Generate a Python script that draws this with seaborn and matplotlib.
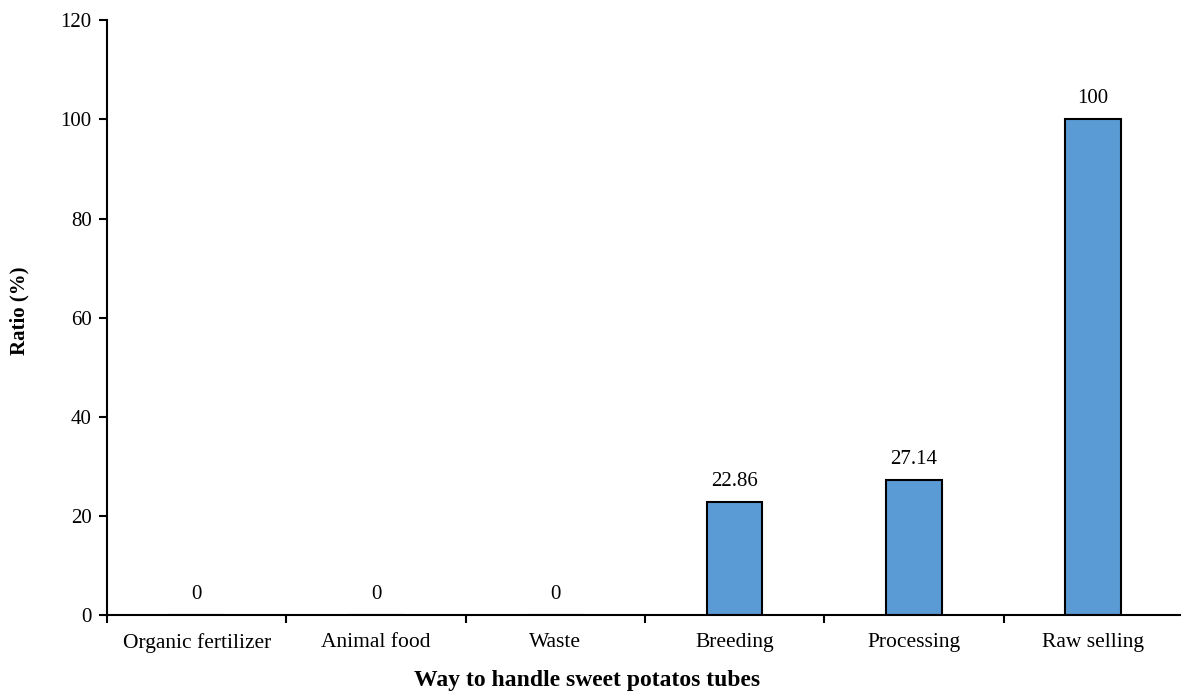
import pandas as pd
import numpy as np
import matplotlib
matplotlib.use("Agg")
import matplotlib.pyplot as plt
import seaborn as sns

# data
categories = ["Organic fertilizer", "Animal food", "Waste", "Breeding", "Processing", "Raw selling"]
ratios = [0, 0, 0, 22.86, 27.14, 100]
value_labels = ["0", "0", "0", "22.86", "27.14", "100"]

df = pd.DataFrame({"Way": categories, "Ratio": ratios})

sns.set_style("white")
plt.rcParams['font.family'] = ['Liberation Serif', 'DejaVu Serif']
plt.rcParams['text.color'] = 'black'
plt.rcParams['axes.labelcolor'] = 'black'
plt.rcParams['xtick.color'] = 'black'
plt.rcParams['ytick.color'] = 'black'

fig = plt.figure(figsize=(11.81, 6.93), dpi=100)
ax = fig.add_axes([0.0906, 0.1126, 0.911, 0.858])

sns.barplot(x="Way", y="Ratio", data=df, color="#5B9BD5", edgecolor="black",
            linewidth=1.5, width=0.31, saturation=1, ax=ax)

# value labels on top of bars
for i, (v, lab) in enumerate(zip(ratios, value_labels)):
    ax.annotate(lab, (i, v), xytext=(0, 8), textcoords="offset points",
                ha="center", va="bottom", fontsize=15, color="black")

ax.set_ylim(0, 120)
ax.set_xlim(-0.5, len(categories) - 0.5)
ax.set_yticks(np.arange(0, 121, 20))

# category boundaries as tick marks (none at the right end), names as minor labels
ax.set_xticks(np.arange(-0.5, len(categories) - 1, 1.0))
ax.set_xticklabels([])
ax.set_xticks(np.arange(len(categories)), minor=True)
ax.set_xticklabels(categories, minor=True, fontsize=15.5)
ax.tick_params(axis="x", which="major", direction="out", length=6, width=1.5, bottom=True)
ax.tick_params(axis="x", which="minor", length=0, pad=13)
ax.tick_params(axis="y", direction="out", length=6, width=1.5, left=True, labelsize=15, pad=5)

for s in ["top", "right"]:
    ax.spines[s].set_visible(False)
for s in ["left", "bottom"]:
    ax.spines[s].set_linewidth(1.5)
    ax.spines[s].set_color("black")

ax.set_xlabel("Way to handle sweet potatos tubes", fontsize=17, fontweight="bold")
ax.set_ylabel("Ratio (%)", fontsize=15, fontweight="bold")
ax.xaxis.set_label_coords(0.446, -0.093)
ax.yaxis.set_label_coords(-0.0725, 0.511)

fig.savefig("out.png", dpi=100)
